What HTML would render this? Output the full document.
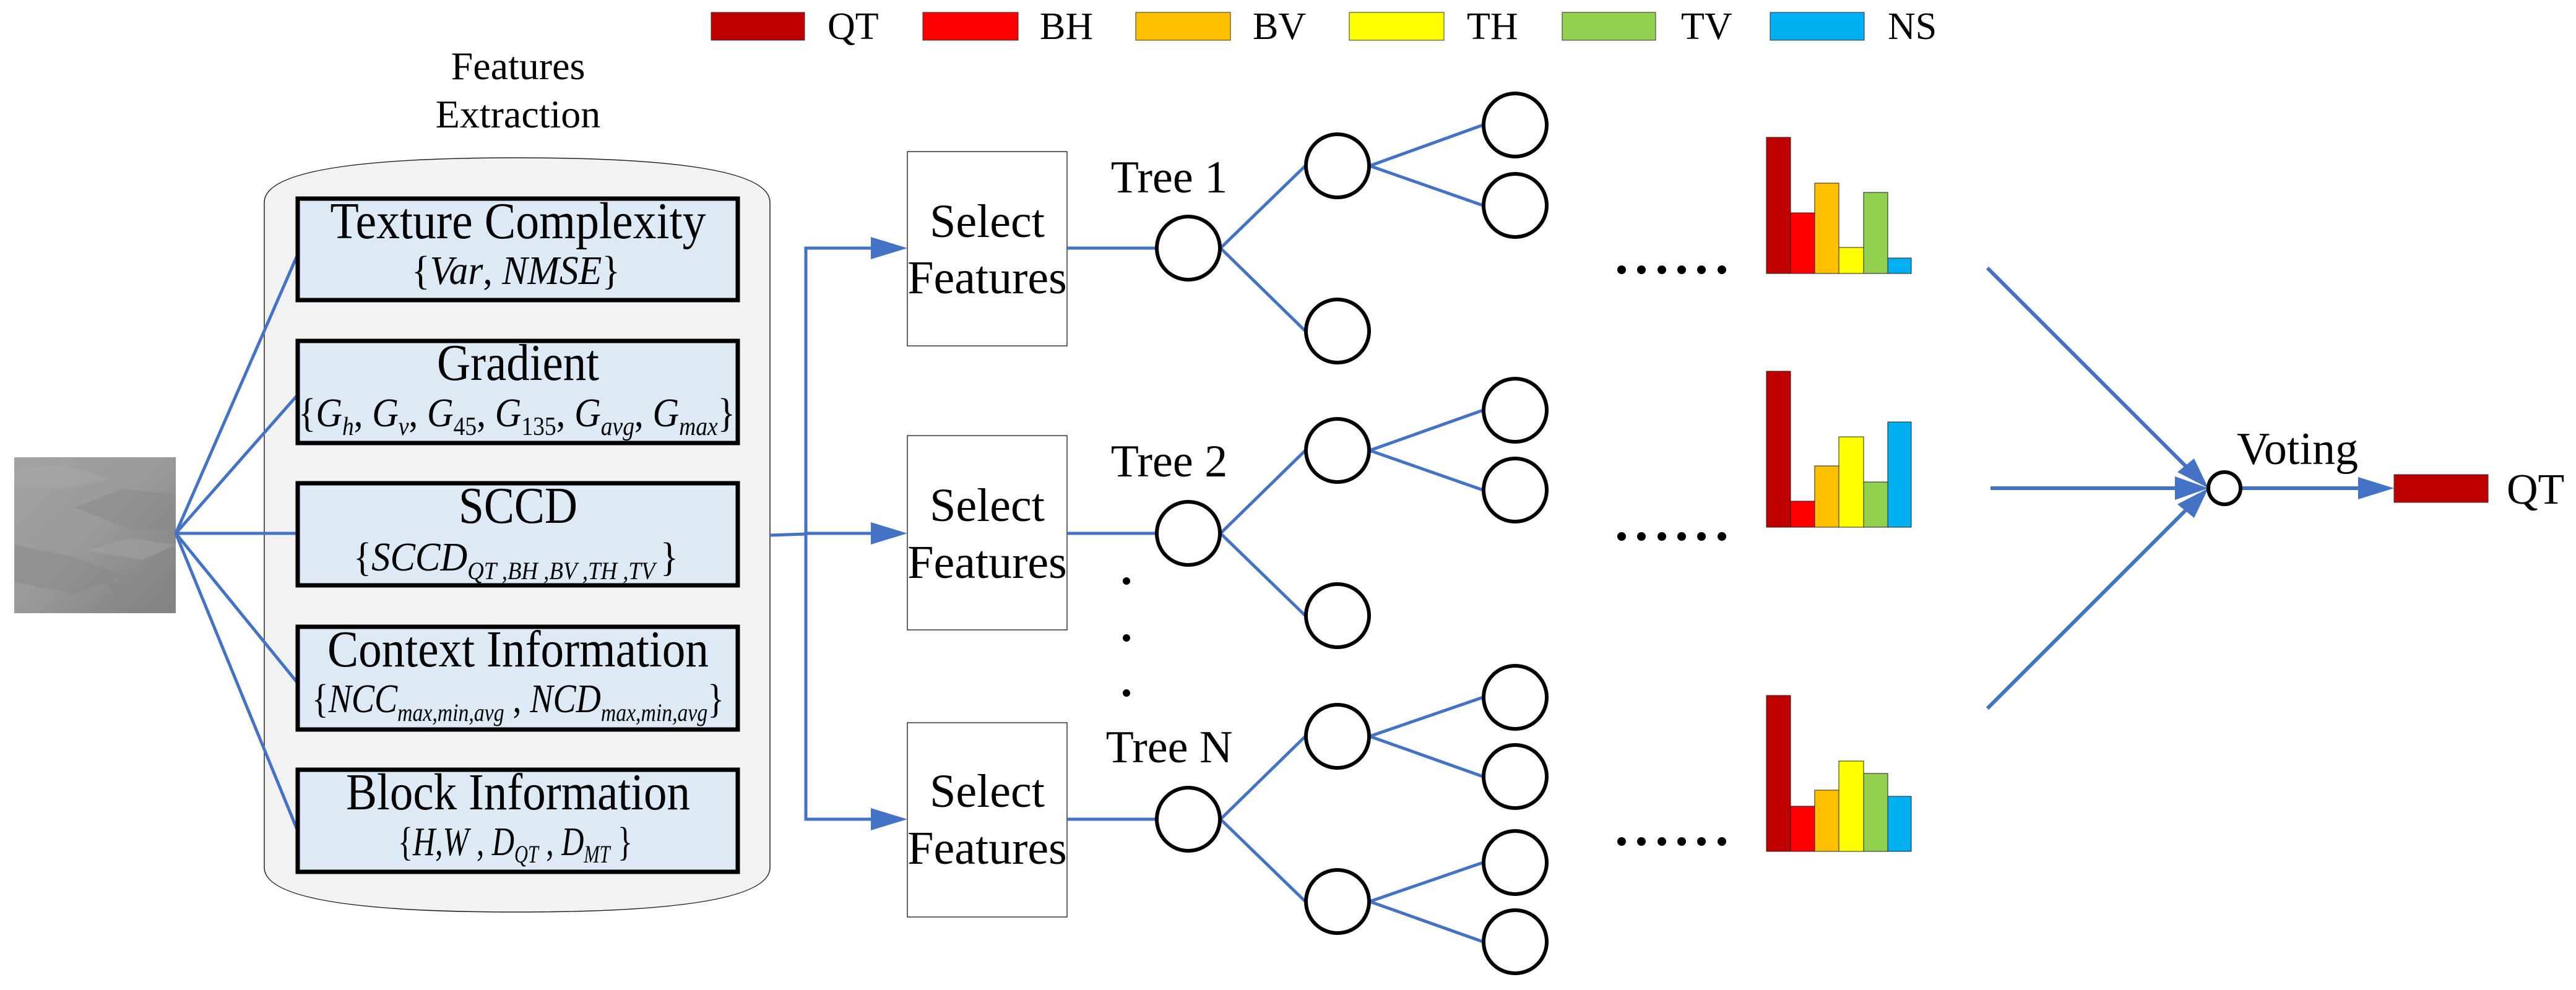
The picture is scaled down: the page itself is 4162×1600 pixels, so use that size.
<!DOCTYPE html>
<html><head><meta charset="utf-8"><style>html,body{margin:0;padding:0;background:#fff}svg{display:block}</style></head>
<body>
<svg width="4162" height="1600" viewBox="0 0 4162 1600" xmlns="http://www.w3.org/2000/svg" font-family="'Liberation Serif', serif">
<defs>
<linearGradient id="img" x1="0" y1="0" x2="1" y2="1">
<stop offset="0" stop-color="#a3a3a3"/><stop offset="0.5" stop-color="#999"/><stop offset="1" stop-color="#7e7e7e"/>
</linearGradient>
</defs>

<!-- legend -->
<g font-size="62">
<rect x="1149" y="20" width="151" height="45" fill="#C00000" stroke="#333" stroke-width="1"/><text x="1337" y="63">QT</text>
<rect x="1491" y="20" width="154" height="45" fill="#FF0000" stroke="#333" stroke-width="1"/><text x="1680" y="63">BH</text>
<rect x="1835" y="20" width="153" height="45" fill="#FFC000" stroke="#333" stroke-width="1"/><text x="2024" y="63">BV</text>
<rect x="2180" y="20" width="153" height="45" fill="#FFFF00" stroke="#333" stroke-width="1"/><text x="2370" y="63">TH</text>
<rect x="2524" y="20" width="151" height="45" fill="#92D050" stroke="#333" stroke-width="1"/><text x="2716" y="63">TV</text>
<rect x="2860" y="20" width="152" height="45" fill="#00B0F0" stroke="#333" stroke-width="1"/><text x="3050" y="63">NS</text>
</g>

<text x="837" y="128" font-size="64" text-anchor="middle">Features</text>
<text x="837" y="206" font-size="64" text-anchor="middle">Extraction</text>

<path d="M427,327 Q427,255 835,255 Q1244,255 1244,327 L1244,1402 Q1244,1474 835,1474 Q427,1474 427,1402 Z" fill="#f2f2f2" stroke="#222" stroke-width="1.5"/>

<rect x="23" y="739" width="261" height="252" fill="url(#img)"/>
<g fill="#888" opacity="0.45">
<polygon points="120,820 200,790 284,800 284,860 210,855"/>
<polygon points="23,880 120,900 200,930 120,960 23,940"/>
<polygon points="170,940 284,950 284,991 200,991"/>
</g>
<g fill="#aaa" opacity="0.4">
<polygon points="23,760 100,750 180,775 100,790 23,785"/>
<polygon points="140,890 210,870 284,880 230,905"/>
</g>

<g stroke="#4472C4" stroke-width="5" fill="none">
<line x1="284" y1="862" x2="481" y2="411"/>
<line x1="284" y1="862" x2="481" y2="638"/>
<line x1="284" y1="862" x2="481" y2="862"/>
<line x1="284" y1="862" x2="481" y2="1104"/>
<line x1="284" y1="862" x2="481" y2="1343"/>
</g>

<g fill="#DDE9F5" stroke="#000" stroke-width="7">
<rect x="481" y="321" width="711" height="164"/>
<rect x="481" y="551" width="711" height="165"/>
<rect x="481" y="781" width="711" height="165"/>
<rect x="481" y="1013" width="711" height="166"/>
<rect x="481" y="1244" width="711" height="165"/>
</g>
<g font-size="84" text-anchor="middle">
<text x="837" y="385" textLength="607" lengthAdjust="spacingAndGlyphs">Texture Complexity</text>
<text x="837" y="614" textLength="262" lengthAdjust="spacingAndGlyphs">Gradient</text>
<text x="837" y="845" textLength="192" lengthAdjust="spacingAndGlyphs">SCCD</text>
<text x="837" y="1077" textLength="616" lengthAdjust="spacingAndGlyphs">Context Information</text>
<text x="837" y="1308" textLength="556" lengthAdjust="spacingAndGlyphs">Block Information</text>
</g>
<g font-size="66" font-style="italic">
<text x="665" y="459" textLength="337" lengthAdjust="spacingAndGlyphs"><tspan font-style="normal">{</tspan>Var<tspan font-style="normal">, </tspan>NMSE<tspan font-style="normal">}</tspan></text>
<text x="482" y="689" textLength="706" lengthAdjust="spacingAndGlyphs"><tspan font-style="normal">{</tspan>G<tspan font-size="42" dy="14">h</tspan><tspan dy="-14" font-style="normal">, </tspan>G<tspan font-size="42" dy="14">v</tspan><tspan dy="-14" font-style="normal">, </tspan>G<tspan font-size="42" dy="14" font-style="normal">45</tspan><tspan dy="-14" font-style="normal">, </tspan>G<tspan font-size="42" dy="14" font-style="normal">135</tspan><tspan dy="-14" font-style="normal">, </tspan>G<tspan font-size="42" dy="14">avg</tspan><tspan dy="-14" font-style="normal">, </tspan>G<tspan font-size="42" dy="14">max</tspan><tspan dy="-14" font-style="normal">}</tspan></text>
<text x="571" y="922" textLength="525" lengthAdjust="spacingAndGlyphs"><tspan font-style="normal">{</tspan>SCCD<tspan font-size="40" dy="14">QT ,BH ,BV ,TH ,TV </tspan><tspan dy="-14" font-style="normal">}</tspan></text>
<text x="504" y="1151" textLength="666" lengthAdjust="spacingAndGlyphs"><tspan font-style="normal">{</tspan>NCC<tspan font-size="40" dy="14">max,min,avg</tspan><tspan dy="-14" font-style="normal"> , </tspan>NCD<tspan font-size="40" dy="14">max,min,avg</tspan><tspan dy="-14" font-style="normal">}</tspan></text>
<text x="643" y="1382" textLength="379" lengthAdjust="spacingAndGlyphs"><tspan font-style="normal">{</tspan>H<tspan font-style="normal">,</tspan>W<tspan font-style="normal"> , </tspan>D<tspan font-size="40" dy="12">QT</tspan><tspan dy="-12" font-style="normal"> , </tspan>D<tspan font-size="40" dy="12">MT</tspan><tspan dy="-12" font-style="normal"> }</tspan></text>
</g>

<g stroke="#4472C4" stroke-width="5" fill="none">
<polyline points="1244,865 1302,863"/>
<polyline points="1410,401 1302,401 1302,1324 1410,1324"/>
<line x1="1302" y1="862" x2="1410" y2="862"/>
</g>
<g fill="#4472C4">
<polygon points="1466,401 1407,383 1407,419"/>
<polygon points="1466,862 1407,844 1407,880"/>
<polygon points="1466,1324 1407,1306 1407,1342"/>
</g>

<g fill="#fff" stroke="#333" stroke-width="1.5">
<rect x="1466" y="245" width="258" height="314"/>
<rect x="1466" y="704" width="258" height="314"/>
<rect x="1466" y="1168" width="258" height="314"/>
</g>
<g font-size="76" text-anchor="middle">
<text x="1595" y="383">Select</text><text x="1595" y="474">Features</text>
<text x="1595" y="842">Select</text><text x="1595" y="934">Features</text>
<text x="1595" y="1304">Select</text><text x="1595" y="1396">Features</text>
</g>
<g font-size="74" text-anchor="middle">
<text x="1889" y="311">Tree 1</text>
<text x="1889" y="770">Tree 2</text>
<text x="1889" y="1232">Tree N</text>
</g>
<g fill="#000">
<circle cx="1820" cy="939" r="6"/><circle cx="1820" cy="1031" r="6"/><circle cx="1820" cy="1120" r="6"/>
</g>

<g stroke="#4472C4" stroke-width="5" fill="none">
<line x1="1724" y1="401" x2="1868" y2="401"/>
<line x1="1724" y1="862" x2="1868" y2="862"/>
<line x1="1724" y1="1324" x2="1868" y2="1324"/>
<line x1="1972" y1="401" x2="2109" y2="268"/><line x1="1972" y1="401" x2="2109" y2="535"/>
<line x1="2213" y1="268" x2="2396" y2="202"/><line x1="2213" y1="268" x2="2396" y2="332"/>
<line x1="1972" y1="862" x2="2109" y2="728"/><line x1="1972" y1="862" x2="2109" y2="995"/>
<line x1="2213" y1="728" x2="2396" y2="663"/><line x1="2213" y1="728" x2="2396" y2="792"/>
<line x1="1972" y1="1324" x2="2109" y2="1190"/><line x1="1972" y1="1324" x2="2109" y2="1457"/>
<line x1="2213" y1="1190" x2="2396" y2="1127"/><line x1="2213" y1="1190" x2="2396" y2="1255"/>
<line x1="2213" y1="1457" x2="2396" y2="1394"/><line x1="2213" y1="1457" x2="2396" y2="1522"/>
</g>
<g fill="#fff" stroke="#000" stroke-width="6">
<circle cx="1920" cy="401" r="51"/><circle cx="1920" cy="862" r="51"/><circle cx="1920" cy="1324" r="51"/>
<circle cx="2161" cy="268" r="51"/><circle cx="2161" cy="535" r="51"/>
<circle cx="2161" cy="728" r="51"/><circle cx="2161" cy="995" r="51"/>
<circle cx="2161" cy="1190" r="51"/><circle cx="2161" cy="1457" r="51"/>
<circle cx="2448" cy="202" r="51"/><circle cx="2448" cy="332" r="51"/>
<circle cx="2448" cy="663" r="51"/><circle cx="2448" cy="792" r="51"/>
<circle cx="2448" cy="1127" r="51"/><circle cx="2448" cy="1255" r="51"/>
<circle cx="2448" cy="1394" r="51"/><circle cx="2448" cy="1522" r="51"/>
</g>

<g fill="#000">
<circle cx="2620" cy="436" r="7"/><circle cx="2652" cy="436" r="7"/><circle cx="2685" cy="436" r="7"/><circle cx="2717" cy="436" r="7"/><circle cx="2749" cy="436" r="7"/><circle cx="2782" cy="436" r="7"/>
<circle cx="2620" cy="867" r="7"/><circle cx="2652" cy="867" r="7"/><circle cx="2685" cy="867" r="7"/><circle cx="2717" cy="867" r="7"/><circle cx="2749" cy="867" r="7"/><circle cx="2782" cy="867" r="7"/>
<circle cx="2620" cy="1360" r="7"/><circle cx="2652" cy="1360" r="7"/><circle cx="2685" cy="1360" r="7"/><circle cx="2717" cy="1360" r="7"/><circle cx="2749" cy="1360" r="7"/><circle cx="2782" cy="1360" r="7"/>
</g>

<g stroke="#222" stroke-width="1">
<rect x="2854" y="222" width="39" height="220" fill="#C00000"/>
<rect x="2893" y="344" width="39" height="98" fill="#FF0000"/>
<rect x="2932" y="296" width="39" height="146" fill="#FFC000"/>
<rect x="2971" y="400" width="40" height="42" fill="#FFFF00"/>
<rect x="3011" y="311" width="39" height="131" fill="#92D050"/>
<rect x="3050" y="417" width="38" height="25" fill="#00B0F0"/>

<rect x="2854" y="600" width="39" height="252" fill="#C00000"/>
<rect x="2893" y="810" width="39" height="42" fill="#FF0000"/>
<rect x="2932" y="753" width="39" height="99" fill="#FFC000"/>
<rect x="2971" y="706" width="40" height="146" fill="#FFFF00"/>
<rect x="3011" y="779" width="39" height="73" fill="#92D050"/>
<rect x="3050" y="682" width="38" height="170" fill="#00B0F0"/>

<rect x="2854" y="1124" width="39" height="252" fill="#C00000"/>
<rect x="2893" y="1303" width="39" height="73" fill="#FF0000"/>
<rect x="2932" y="1277" width="39" height="99" fill="#FFC000"/>
<rect x="2971" y="1230" width="40" height="146" fill="#FFFF00"/>
<rect x="3011" y="1250" width="39" height="126" fill="#92D050"/>
<rect x="3050" y="1287" width="38" height="89" fill="#00B0F0"/>
</g>

<g stroke="#4472C4" stroke-width="6" fill="none">
<line x1="3211" y1="433" x2="3540" y2="762"/>
<line x1="3216" y1="789" x2="3530" y2="789"/>
<line x1="3211" y1="1145" x2="3540" y2="816"/>
<line x1="3622" y1="789" x2="3815" y2="789"/>
</g>
<g fill="#4472C4">
<polygon points="3568,789 3518,763 3545,741"/>
<polygon points="3568,789 3514,770 3514,808"/>
<polygon points="3568,789 3545,837 3518,815"/>
<polygon points="3868,789 3810,771 3810,807"/>
</g>
<circle cx="3594" cy="789" r="26" fill="#fff" stroke="#000" stroke-width="6"/>
<text x="3712" y="750" font-size="74" text-anchor="middle">Voting</text>
<rect x="3868" y="767" width="152" height="45" fill="#C00000" stroke="#333" stroke-width="1"/>
<text x="4050" y="814" font-size="70">QT</text>
</svg>
</body></html>
